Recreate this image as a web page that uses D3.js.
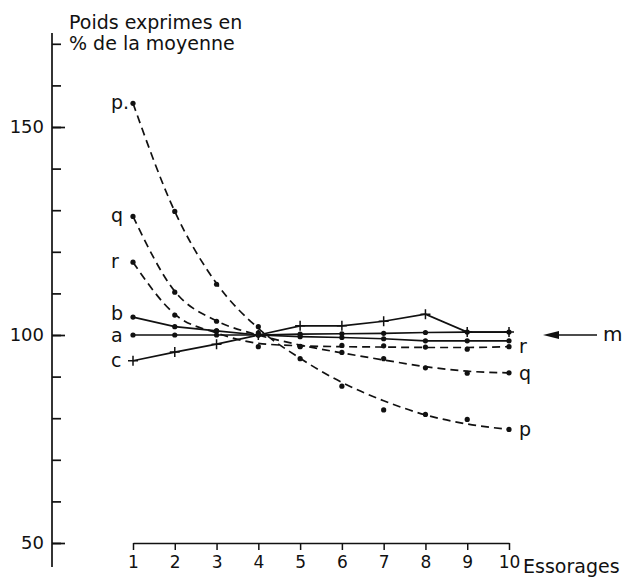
<!DOCTYPE html>
<html>
<head>
<meta charset="utf-8">
<script src="https://cdn.jsdelivr.net/npm/d3@7"></script>
<style>
  body { margin: 0; background: #fff; }
  svg { display: block; font-family: "DejaVu Sans", sans-serif; }
</style>
</head>
<body>
<svg id="chart" width="624" height="580"></svg>
<script>
const steps = [1, 2, 3, 4, 5, 6, 7, 8, 9, 10];
const pVals = [155.7, 129.7, 112.2, 102.0, 94.3, 87.7, 82.0, 80.9, 79.7, 77.3];
const qVals = [128.5, 110.3, 103.3, 100.5, 97.2, 95.8, 94.3, 92.1, 90.8, 90.9];
const rVals = [117.5, 104.8, 101.0, 97.2, 97.3, 97.5, 97.4, 97.1, 96.6, 97.2];
const bVals = [104.3, 102.0, 101.0, 100.0, 99.6, 99.4, 99.1, 98.6, 98.6, 98.6];
const aVals = [100, 100, 100, 100, 100.2, 100.3, 100.4, 100.6, 100.7, 100.7];
const cVals = [93.8, 95.9, 97.8, 100.0, 102.2, 102.2, 103.3, 105.0, 100.7, 100.7];
const pFit = [155.7, 129.7, 112.4, 101.6, 94.4, 88.6, 84.2, 80.8, 78.6, 77.3];
const qFit = [128.5, 110.5, 103.4, 100.0, 97.6, 95.7, 94.0, 92.4, 91.3, 90.9];
const rFit = [117.5, 105.0, 100.5, 98.0, 97.4, 97.2, 97.1, 97.0, 97.0, 97.2];
const yMajor = [50, 100, 150];
const yMinor = d3.range(50, 171, 10);

const series = [
  { name: 'p', values: pVals, fit: pFit, marker: 'dot',  left: 'p.', right: 'p', dy: 0 },
  { name: 'q', values: qVals, fit: qFit, marker: 'dot',  left: 'q',  right: 'q', dy: 0 },
  { name: 'r', values: rVals, fit: rFit, marker: 'dot',  left: 'r',  right: 'r', dy: 0 },
  { name: 'b', values: bVals, fit: null, marker: 'dot',  left: 'b',  right: null, dy: -3 },
  { name: 'a', values: aVals, fit: null, marker: 'dot',  left: 'a',  right: null, dy: 1 },
  { name: 'c', values: cVals, fit: null, marker: 'plus', left: 'c',  right: null, dy: 1 }
];

const svg = d3.select('#chart');
const ink = '#111';

// ---- Echelles
const x = d3.scaleLinear().domain([1, 10]).range([133, 509]);
const y = d3.scaleLinear().domain([50, 150]).range([543, 127]);
const axisX0 = 52;

// ---- Axe vertical
svg.append('line')
  .attr('x1', axisX0).attr('x2', axisX0)
  .attr('y1', 33).attr('y2', 567)
  .attr('stroke', ink).attr('stroke-width', 1.7);

const minor = svg.append('g')
  .attr('transform', `translate(${axisX0},0)`)
  .call(d3.axisRight(y).tickValues(yMinor).tickSize(9).tickFormat(''));
minor.select('.domain').remove();

const major = svg.append('g')
  .attr('transform', `translate(${axisX0},0)`)
  .call(d3.axisRight(y).tickValues(yMajor).tickSize(13).tickFormat(''));
major.select('.domain').remove();

const yLabels = svg.append('g')
  .attr('transform', `translate(${axisX0 - 2},0)`)
  .call(d3.axisLeft(y).tickValues(yMajor).tickSize(0).tickPadding(6));
yLabels.select('.domain').remove();
yLabels.selectAll('text').attr('font-size', 18).attr('font-family', 'DejaVu Sans').attr('fill', ink);

svg.selectAll('.tick line').attr('stroke', ink).attr('stroke-width', 1.7);

// ---- Axe horizontal
const xAxis = svg.append('g')
  .attr('transform', `translate(0,${y(50)})`)
  .call(d3.axisBottom(x).tickValues(steps).tickSize(7).tickSizeOuter(0).tickPadding(6));
xAxis.select('.domain').attr('stroke', ink).attr('stroke-width', 1.7);
xAxis.selectAll('.tick line').attr('stroke', ink).attr('stroke-width', 1.5);
xAxis.selectAll('text').attr('font-size', 17).attr('font-family', 'DejaVu Sans').attr('fill', ink);

svg.append('text')
  .attr('x', 523).attr('y', 573)
  .attr('font-size', 19).attr('fill', ink)
  .text('Essorages');

// ---- Titre de l'axe
svg.append('text').attr('x', 69).attr('y', 29)
  .attr('font-size', 19).attr('fill', ink).text('Poids exprimes en');
svg.append('text').attr('x', 69).attr('y', 50)
  .attr('font-size', 19).attr('fill', ink).text('% de la moyenne');

// ---- Courbes
const lineSmooth = d3.line().x((d, i) => x(steps[i])).y(d => y(d)).curve(d3.curveMonotoneX);
const lineStraight = d3.line().x((d, i) => x(steps[i])).y(d => y(d));

const g = svg.append('g');

series.forEach(s => {
  g.append('path')
    .attr('d', s.fit ? lineSmooth(s.fit) : lineStraight(s.values))
    .attr('fill', 'none')
    .attr('stroke', ink)
    .attr('stroke-width', 1.7)
    .attr('stroke-dasharray', s.fit ? '8,5' : null);

  if (s.marker === 'dot') {
    g.selectAll(null).data(s.values).join('circle')
      .attr('cx', (d, i) => x(steps[i]))
      .attr('cy', d => y(d))
      .attr('r', 2.6)
      .attr('fill', ink);
  } else {
    g.selectAll(null).data(s.values).join('path')
      .attr('d', (d, i) => {
        const cx = x(steps[i]), cy = y(d);
        return `M${cx - 5},${cy}H${cx + 5}M${cx},${cy - 5}V${cy + 5}`;
      })
      .attr('stroke', ink)
      .attr('stroke-width', 1.5);
  }

  // étiquette à gauche
  g.append('text')
    .attr('x', x(1) - 22)
    .attr('y', y(s.values[0]) + s.dy)
    .attr('dy', '0.3em')
    .attr('font-size', 19)
    .attr('fill', ink)
    .text(s.left);

  if (s.right) {
    g.append('text')
      .attr('x', x(10) + 10)
      .attr('y', y(s.values[s.values.length - 1]))
      .attr('dy', '0.35em')
      .attr('font-size', 19)
      .attr('fill', ink)
      .text(s.right);
  }
});

// ---- Flèche m (moyenne)
svg.append('line')
  .attr('x1', 555).attr('x2', 597)
  .attr('y1', y(100)).attr('y2', y(100))
  .attr('stroke', ink).attr('stroke-width', 1.5);
svg.append('path')
  .attr('d', `M543,${y(100)}L559,${y(100) - 4}L559,${y(100) + 4}Z`)
  .attr('fill', ink);
svg.append('text')
  .attr('x', 603).attr('y', y(100))
  .attr('dy', '0.3em')
  .attr('font-size', 20).attr('fill', ink)
  .text('m');
</script>
</body>
</html>
